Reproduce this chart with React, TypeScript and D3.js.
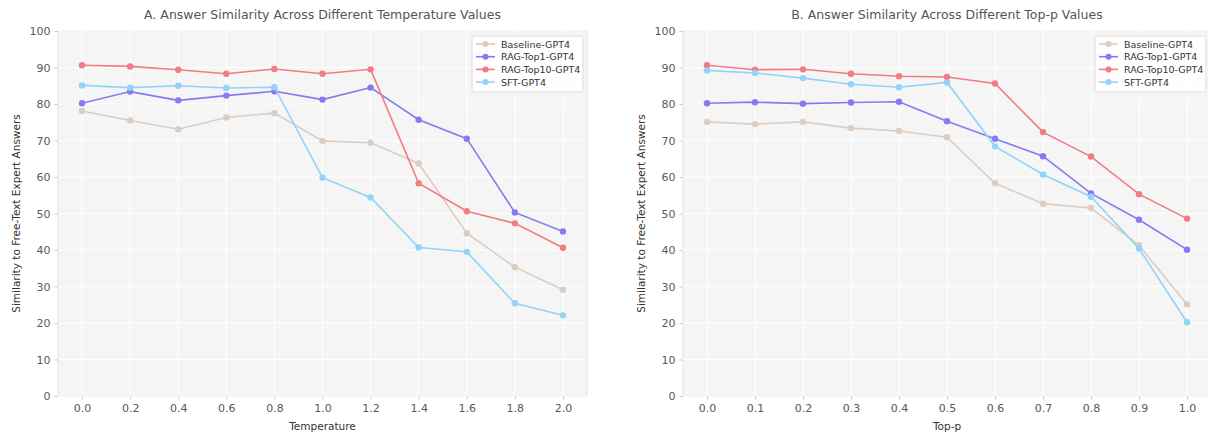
import React, { useRef, useEffect } from 'react';
import * as d3 from 'd3';

const seriesNames = ['Baseline-GPT4', 'RAG-Top1-GPT4', 'RAG-Top10-GPT4', 'SFT-GPT4'];
const seriesColors = ['#dccdc0', '#857af0', '#f27b84', '#92d3f8'];

const temperatures = [0.0, 0.2, 0.4, 0.6, 0.8, 1.0, 1.2, 1.4, 1.6, 1.8, 2.0];
const tempBaseline = [78.1, 75.5, 73.1, 76.3, 77.5, 69.9, 69.4, 63.7, 44.6, 35.3, 29.1];
const tempTop1 = [80.2, 83.4, 81.0, 82.3, 83.5, 81.2, 84.5, 75.7, 70.5, 50.3, 45.1];
const tempTop10 = [90.6, 90.3, 89.4, 88.3, 89.6, 88.3, 89.5, 58.3, 50.6, 47.3, 40.6];
const tempSft = [85.1, 84.5, 85.0, 84.4, 84.6, 59.8, 54.4, 40.7, 39.5, 25.4, 22.1];

const topPs = [0.0, 0.1, 0.2, 0.3, 0.4, 0.5, 0.6, 0.7, 0.8, 0.9, 1.0];
const topPBaseline = [75.1, 74.5, 75.1, 73.4, 72.6, 70.9, 58.3, 52.7, 51.5, 41.3, 25.1];
const topPTop1 = [80.2, 80.5, 80.1, 80.4, 80.6, 75.3, 70.5, 65.7, 55.5, 48.3, 40.1];
const topPTop10 = [90.6, 89.4, 89.5, 88.3, 87.6, 87.4, 85.6, 72.3, 65.6, 55.3, 48.6];
const topPSft = [89.2, 88.5, 87.1, 85.4, 84.6, 85.9, 68.4, 60.7, 54.6, 40.4, 20.2];

const yTicks = [0, 10, 20, 30, 40, 50, 60, 70, 80, 90, 100];

const FONT = 'DejaVu Sans, sans-serif';

const App = () => {
  const ref = useRef<SVGSVGElement | null>(null);

  useEffect(() => {
    const svg = d3.select(ref.current);
    svg.selectAll('*').remove();

    const panels = [
      {
        title: 'A. Answer Similarity Across Different Temperature Values',
        xLabel: 'Temperature',
        xs: temperatures,
        series: [tempBaseline, tempTop1, tempTop10, tempSft],
        left: 58, right: 587,
        legendX: 472,
      },
      {
        title: 'B. Answer Similarity Across Different Top-p Values',
        xLabel: 'Top-p',
        xs: topPs,
        series: [topPBaseline, topPTop1, topPTop10, topPSft],
        left: 683, right: 1211,
        legendX: 1095,
      },
    ];

    const top = 31, bottom = 396;

    panels.forEach(p => {
      const xMin = p.xs[0], xMax = p.xs[p.xs.length - 1];
      const pad = (xMax - xMin) * 0.05;
      const x = d3.scaleLinear().domain([xMin - pad, xMax + pad]).range([p.left, p.right]);
      const y = d3.scaleLinear().domain([0, 100]).range([bottom, top]);
      const mid = (p.left + p.right) / 2;

      const g = svg.append('g');

      g.append('rect')
        .attr('x', p.left).attr('y', top)
        .attr('width', p.right - p.left).attr('height', bottom - top)
        .attr('fill', '#f5f5f5')
        .attr('stroke', '#e2e2e2').attr('stroke-width', 1);

      // grid
      g.selectAll('.gx').data(p.xs).join('line')
        .attr('x1', d => x(d)).attr('x2', d => x(d))
        .attr('y1', top).attr('y2', bottom)
        .attr('stroke', '#ffffff').attr('stroke-width', 1);
      g.selectAll('.gy').data(yTicks).join('line')
        .attr('x1', p.left).attr('x2', p.right)
        .attr('y1', d => y(d)).attr('y2', d => y(d))
        .attr('stroke', '#ffffff').attr('stroke-width', 1);

      // axes
      const xAxis = d3.axisBottom(x).tickValues(p.xs).tickFormat(d3.format('.1f')).tickSize(3.5).tickPadding(5);
      const yAxis = d3.axisLeft(y).tickValues(yTicks).tickSize(3.5).tickPadding(4);

      const ax = g.append('g').attr('transform', `translate(0,${bottom})`).call(xAxis);
      const ay = g.append('g').attr('transform', `translate(${p.left},0)`).call(yAxis);
      [ax, ay].forEach(a => {
        a.select('.domain').remove();
        a.selectAll('line').attr('stroke', '#cccccc');
        a.selectAll('text').attr('fill', '#5a5a5a').style('font-family', FONT).style('font-size', '11px');
      });

      // lines + markers
      p.series.forEach((vals, si) => {
        const pts = p.xs.map((xv, i) => [xv, vals[i]] as [number, number]);
        const line = d3.line<[number, number]>().x(d => x(d[0])).y(d => y(d[1]));
        g.append('path').datum(pts)
          .attr('d', line)
          .attr('fill', 'none')
          .attr('stroke', seriesColors[si])
          .attr('stroke-width', 1.6);
        g.selectAll(`.m${si}`).data(pts).join('circle')
          .attr('cx', d => x(d[0])).attr('cy', d => y(d[1]))
          .attr('r', 3.2)
          .attr('fill', seriesColors[si]);
      });

      // title and axis labels
      svg.append('text')
        .attr('x', mid).attr('y', 19)
        .attr('text-anchor', 'middle')
        .style('font-family', FONT).style('font-size', '12.5px')
        .attr('fill', '#555555')
        .text(p.title);

      svg.append('text')
        .attr('x', mid).attr('y', 430)
        .attr('text-anchor', 'middle')
        .style('font-family', FONT).style('font-size', '10.5px')
        .attr('fill', '#333333')
        .text(p.xLabel);

      svg.append('text')
        .attr('transform', `translate(${p.left - 38},${(top + bottom) / 2}) rotate(-90)`)
        .attr('text-anchor', 'middle')
        .style('font-family', FONT).style('font-size', '10.5px')
        .attr('fill', '#333333')
        .text('Similarity to Free-Text Expert Answers');

      // legend
      const lx = p.legendX;
      const ly = 36;
      const lg = g.append('g');
      lg.append('rect')
        .attr('x', lx).attr('y', ly).attr('width', 111).attr('height', 56)
        .attr('rx', 2)
        .attr('fill', '#ffffff').attr('fill-opacity', 0.85)
        .attr('stroke', '#dddddd').attr('stroke-width', 1);
      seriesNames.forEach((name, si) => {
        const yy = ly + 8 + si * 12.7;
        lg.append('line')
          .attr('x1', lx + 4).attr('x2', lx + 23)
          .attr('y1', yy).attr('y2', yy)
          .attr('stroke', seriesColors[si]).attr('stroke-width', 1.6);
        lg.append('circle')
          .attr('cx', lx + 13.5).attr('cy', yy).attr('r', 3)
          .attr('fill', seriesColors[si]);
        lg.append('text')
          .attr('x', lx + 29).attr('y', yy + 3.5)
          .style('font-family', FONT).style('font-size', '9.5px')
          .attr('fill', '#333333')
          .text(name);
      });
    });
  }, []);

  return (
    <svg
      ref={ref}
      width={1208}
      height={434}
      style={{ position: 'fixed', left: 0, top: 0, background: '#ffffff' }}
    />
  );
};

export default App;
